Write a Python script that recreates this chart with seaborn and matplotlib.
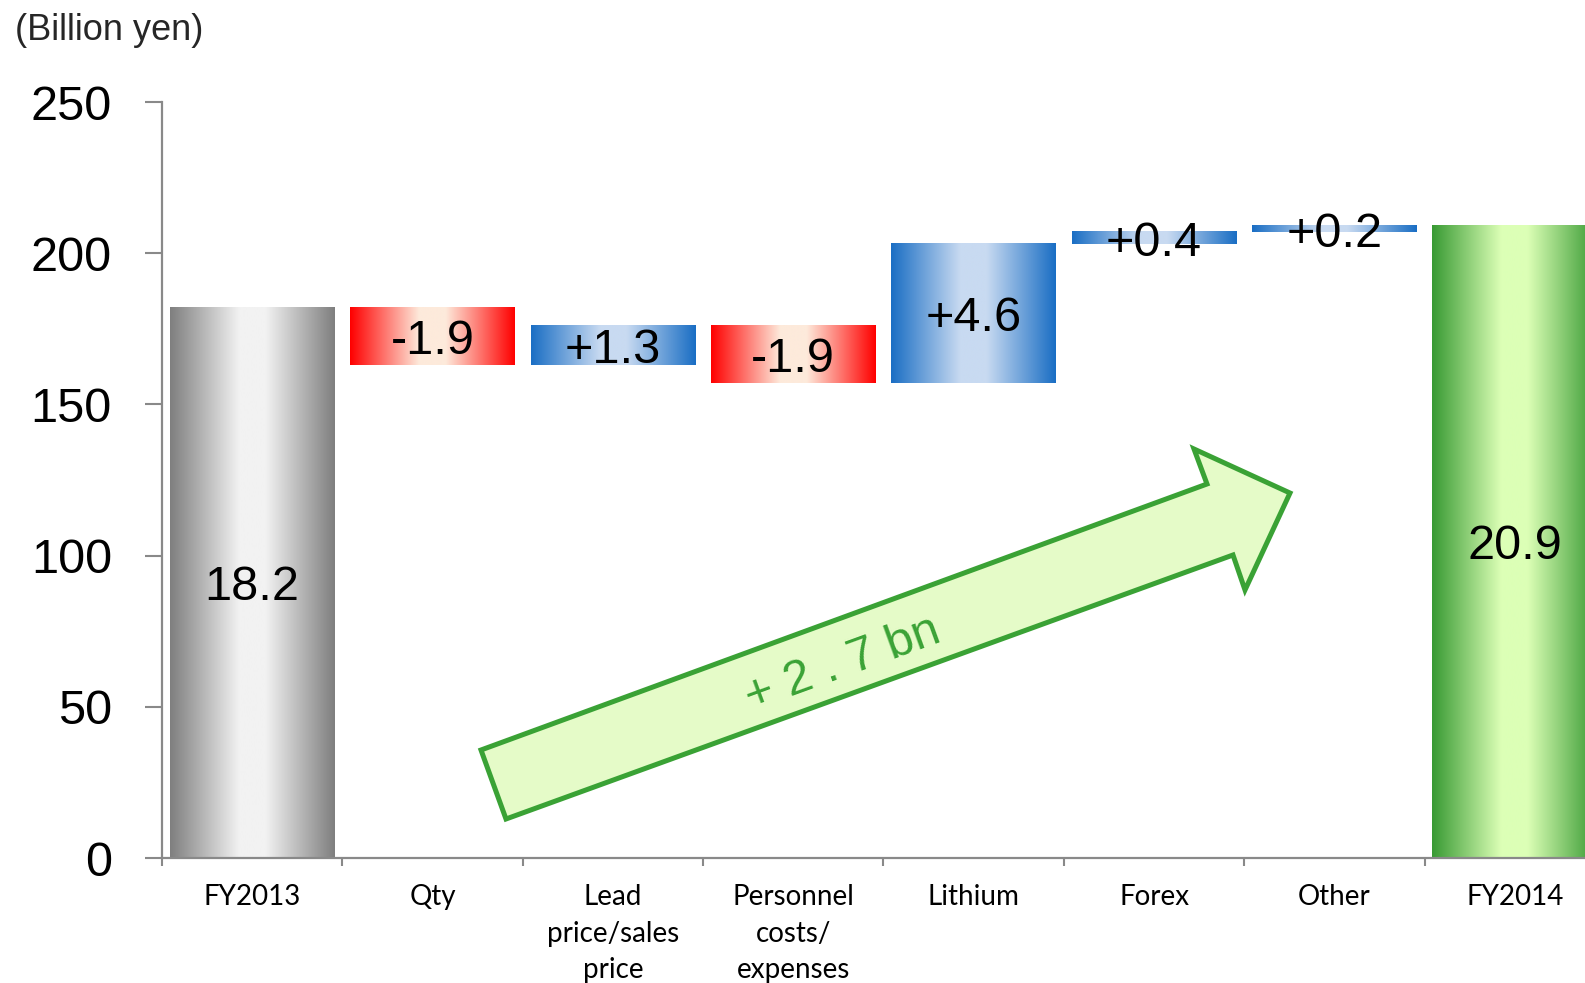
import numpy as np
import pandas as pd
import matplotlib
matplotlib.use("Agg")
import matplotlib.pyplot as plt
from matplotlib.colors import LinearSegmentedColormap
from matplotlib.patches import Polygon
import seaborn as sns

# ---- data (billion yen) ----
categories = ["FY2013", "Qty", "Lead\nprice/sales\nprice", "Personnel\ncosts/\nexpenses",
              "Lithium", "Forex", "Other", "FY2014"]
start_total = 18.2
changes = [-1.9, 1.3, -1.9, 4.6, 0.4, 0.2]
end_total = 20.9
overall_change = 2.7
y_ticks = [0, 50, 100, 150, 200, 250]
unit_label = "(Billion yen)"

AXIS_SCALE = 10  # the value axis is graduated in units of 100 million yen

# ---- waterfall geometry ----
levels = [start_total]
for c in changes:
    levels.append(levels[-1] + c)
bottoms = [0.0] + [min(levels[i], levels[i + 1]) for i in range(len(changes))] + [0.0]
heights = [start_total] + [abs(c) for c in changes] + [end_total]
labels = [f"{start_total:.1f}"] + [f"{c:+.1f}" for c in changes] + [f"{end_total:.1f}"]
kinds = ["total_start"] + ["up" if c > 0 else "down" for c in changes] + ["total_end"]

df = pd.DataFrame({
    "category": categories,
    "height": np.array(heights) * AXIS_SCALE,
    "bottom": np.array(bottoms) * AXIS_SCALE,
    "label": labels,
    "kind": kinds,
})

# horizontal gradients: edge colour -> light centre -> edge colour
gradients = {
    "total_start": ("#7f7f7f", "#f2f2f2"),
    "down": ("#ff0000", "#fdeadb"),
    "up": ("#1a6ec4", "#c8daf1"),
    "total_end": ("#389a33", "#dcffb6"),
}

def make_cmap(edge, centre):
    return LinearSegmentedColormap.from_list(
        "g", [(0.0, edge), (0.42, centre), (0.58, centre), (1.0, edge)])

sns.set_style("white")
plt.rcParams["font.family"] = ["Liberation Sans", "DejaVu Sans"]

W, H = 1585, 983
fig = plt.figure(figsize=(W / 100, H / 100), dpi=100)
ax = fig.add_axes([162 / W, 125 / H, (1605 - 162) / W, 756 / H])

palette = {cat: gradients[k][0] for cat, k in zip(categories, kinds)}
sns.barplot(data=df, x="category", y="height", hue="category", palette=palette,
            width=0.914, saturation=1, legend=False, linewidth=0, ax=ax)

for patch, (_, row) in zip(ax.patches, df.iterrows()):
    patch.set_y(row["bottom"])
    x0, w = patch.get_x(), patch.get_width()
    cmap = make_cmap(*gradients[row["kind"]])
    grad = cmap(np.linspace(0, 1, 256))[None, :, :]
    ax.imshow(grad, extent=(x0, x0 + w, row["bottom"], row["bottom"] + row["height"]),
              aspect="auto", interpolation="bilinear", zorder=2)
    ax.text(x0 + w / 2, row["bottom"] + row["height"] / 2, row["label"],
            ha="center", va="center_baseline", fontsize=35, color="black", zorder=3)

ax.set_xlim(-0.5, len(categories) - 0.5)
ax.set_ylim(0, 250)
ax.set_xlabel("")
ax.set_ylabel("")

# axes styling
axis_grey = "#898989"
for side in ("top", "right"):
    ax.spines[side].set_visible(False)
for side in ("left", "bottom"):
    ax.spines[side].set_color(axis_grey)
    ax.spines[side].set_linewidth(1.6)

ax.set_yticks(y_ticks)
ax.set_yticklabels([str(t) for t in y_ticks])
ax.tick_params(axis="y", length=12, width=1.5, color=axis_grey, pad=24,
               labelsize=35, labelcolor="black", left=True)

ax.set_xticks(range(len(categories)))
ax.set_xticklabels(categories, fontfamily="Lato", fontsize=20, linespacing=1.5)
ax.tick_params(axis="x", which="major", length=0, pad=19, labelcolor="black")
ax.set_xticks(np.arange(-0.5, len(categories) - 0.5, 1), minor=True)
ax.tick_params(axis="x", which="minor", length=6, width=1.5, color=axis_grey, bottom=True)

fig.text(15 / W, 1 - 30 / H, unit_label, fontsize=26, ha="left", va="center")

# overall change arrow
arrow_px = [(481, 750), (1207, 484), (1194, 449), (1290, 493),
            (1245, 590), (1233, 555), (506, 819)]
arrow = Polygon([(x / W, 1 - y / H) for x, y in arrow_px], closed=True,
                transform=fig.transFigure, facecolor="#e5fbc8", edgecolor="#3aa235",
                linewidth=3.6, joinstyle="miter", zorder=5)
fig.add_artist(arrow)
fig.text(843 / W, 1 - 664 / H, f"+ {overall_change:.1f}".replace(".", " . ") + " bn",
         rotation=20, rotation_mode="anchor", ha="center", va="center",
         fontsize=35, color="#3aa235", zorder=6)

fig.savefig("out.png", dpi=100)
